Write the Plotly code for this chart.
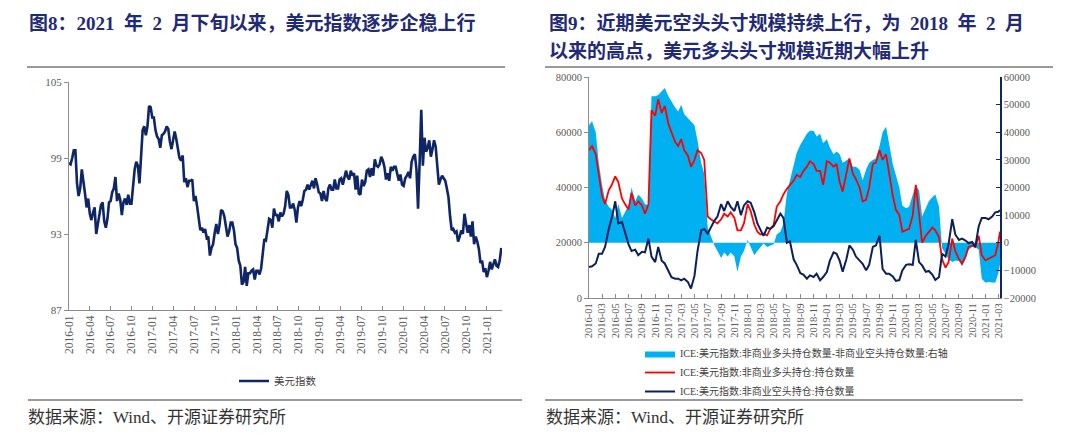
import pandas as pd
import plotly.graph_objects as go

# ---------------- data: left chart (US dollar index, weekly) ----------------
dxy = [
    # 2016
    98.6, 98.5, 99.0, 99.6, 99.6,
    97.0, 96.0, 96.6, 98.1,
    97.3, 96.2, 95.1, 95.8,
    94.6, 94.1, 94.7, 95.1, 93.0,
    93.9, 94.6, 95.3, 95.5,
    94.0, 93.5, 94.2, 95.5,
    95.6, 96.3, 96.6, 97.5, 95.6,
    96.2, 95.7, 94.5, 95.5,
    95.8, 95.3, 96.1, 95.4, 95.4,
    96.6, 98.1, 98.7, 98.4,
    97.0, 99.0, 101.2, 101.5,
    100.8, 101.5, 103.1, 103.0, 102.2,
    # 2017
    102.2, 101.2, 100.7, 100.5,
    99.8, 100.8, 100.9, 101.1,
    101.5, 101.3, 100.3, 99.7, 100.4,
    101.1, 100.5, 99.8, 99.0,
    98.8, 99.2, 97.1, 97.4,
    96.7, 97.2, 97.2, 97.3, 95.6,
    96.0, 95.2, 94.0, 93.3,
    93.5, 93.1, 93.4, 92.7,
    92.8, 91.3, 91.9, 92.2, 93.1,
    93.8, 93.0, 93.7, 94.9,
    94.8, 94.4, 93.6, 92.8,
    93.2, 93.9, 93.9, 93.3, 92.2,
    # 2018
    91.9, 90.9, 90.5, 89.0,
    89.2, 90.4, 88.9, 89.9,
    89.9, 90.1, 90.2, 89.4, 90.1,
    90.1, 89.8, 90.3, 91.5,
    92.6, 92.5, 93.6, 94.2,
    94.1, 93.5, 95.0, 94.5, 94.5,
    94.0, 94.7, 94.4, 94.6,
    95.2, 96.4, 96.1, 95.1, 95.1,
    95.4, 94.9, 93.9, 95.1,
    95.6, 95.2, 95.7, 96.4,
    96.5, 96.9, 96.5, 96.9, 97.2,
    96.6, 97.4, 96.9, 96.3,
    # 2019
    96.2, 95.6, 96.4, 95.8,
    95.6, 96.6, 96.9, 96.5,
    96.5, 97.3, 96.6, 96.6, 97.3,
    97.4, 96.9, 97.4, 98.0,
    97.5, 97.3, 98.0, 97.6, 97.8,
    96.5, 97.6, 96.2, 96.1,
    97.3, 96.8, 97.1, 98.0,
    98.1, 97.5, 98.2, 97.6, 98.9,
    98.4, 98.3, 98.5, 99.1,
    98.8, 98.3, 97.3, 97.8,
    97.2, 98.3, 98.0, 98.3, 98.3,
    97.7, 97.2, 97.7, 96.9,
    # 2020
    96.8, 97.4, 97.6, 97.9, 97.4,
    98.7, 99.1, 99.3, 98.1,
    95.0, 98.7, 102.8, 98.4,
    100.6, 99.5, 99.8, 100.4,
    99.1, 99.7, 100.4, 99.9, 98.3,
    96.9, 97.3, 97.6, 97.4,
    97.2, 96.6, 95.9, 94.4, 93.3,
    93.4, 93.1, 93.2, 92.4,
    92.8, 93.3, 93.0, 94.6,
    93.8, 93.1, 93.7, 92.8, 94.0,
    92.2, 92.8, 92.4, 91.8,
    90.7, 90.9, 90.0, 90.3,
    # 2021
    89.6, 90.1, 90.8, 90.2, 90.6,
    91.0, 90.5, 90.4, 90.9,
    91.9,
]
dxy_dates = pd.date_range("2016-01-01", periods=len(dxy), freq="7D")

# ---------------- data: right chart (ICE DXY non-commercial positions, semi-monthly) ----------------
long_pos = [
    # 2016
    53500, 55000, 52000, 45000, 37000, 34000, 39000, 41000, 44000, 42000, 36000, 34000,
    32000, 38000, 33500, 35000, 33500, 30500, 34000, 68000, 66000, 72000, 67000, 69500,
    # 2017
    63000, 60000, 56500, 55000, 57500, 53500, 51500, 47500, 50000, 53500, 52500, 50000,
    29500, 28500, 27500, 27000, 28500, 30500, 29500, 31000, 29000, 24500, 24500, 27000,
    # 2018
    34000, 31500, 26500, 24000, 23000, 23300, 22700, 25000, 26500, 33000, 35000, 37500,
    39500, 41000, 42500, 44500, 43800, 46000, 47500, 49500, 48500, 46000, 46000, 41000,
    # 2019
    49500, 49000, 47500, 48500, 42000, 38500, 45000, 50500, 45000, 43000, 40000, 35000,
    35500, 40000, 48500, 49000, 53500, 50000, 52000, 45000, 37000, 32000, 30000, 24000,
    # 2020
    24500, 25000, 30000, 41000, 30500, 20000, 22500, 24000, 25500, 24500, 22000, 14000,
    11000, 13000, 21500, 17000, 14000, 12500, 15000, 18500, 19000, 18500, 22500, 15500,
    # 2021
    13600, 14200, 14900, 15500, 20000, 24000,
]
short_pos = [
    # 2016
    11200, 11500, 12500, 16000, 16000, 18500, 25000, 29000, 35000, 27000, 27500, 24000,
    19500, 17000, 17500, 15500, 16700, 16500, 21500, 15000, 13000, 18500, 13500, 12500,
    # 2017
    9500, 7500, 7000, 7000, 6400, 7000, 5800, 3400, 8000, 17000, 24500, 25000,
    23300, 25700, 28000, 29500, 34000, 31500, 35000, 33000, 31500, 35000, 30000, 33500,
    # 2018
    35000, 34500, 31000, 27000, 24500, 22500, 25500, 25000, 26000, 28000, 30500, 29000,
    20000, 20500, 14000, 12000, 9000, 8500, 7000, 8200, 7600, 8800, 6400, 7600,
    # 2019
    9400, 13500, 16500, 16000, 13500, 9500, 14000, 19000, 17500, 15000, 13600, 12400,
    10000, 12000, 18500, 19000, 22500, 10500, 8800, 8800, 7800, 6200, 6500, 10000,
    # 2020
    12000, 12200, 12000, 21000, 13000, 11800, 9500, 9800, 8500, 6500, 7600, 16000,
    15000, 19500, 28500, 23000, 21000, 21500, 20800, 19900, 20300, 18500, 26000, 29000,
    # 2021
    29000, 28500, 29500, 31000, 31200, 31800,
]
net_pos = [
    # 2016
    42500, 44000, 40000, 29000, 21000, 15500, 13000, 12000, 9000, 14000, 9000, 11000,
    13500, 20000, 15000, 17500, 16000, 14000, 13500, 53000, 53000, 53500, 55000, 56000,
    # 2017
    53000, 51000, 49000, 47500, 50000, 46500, 45000, 44000, 42500, 37000, 29000, 25000,
    5500, 2500, -1000, -3000, -5500, -3500, -5000, -3500, -5000, -10500, -5000, -3000,
    # 2018
    1000, -1500, -4500, -3000, -1500, -300, -1500, -1000, -500, 3000, 4000, 7000,
    18000, 22500, 28500, 32500, 35500, 37500, 39500, 40500, 40500, 38500, 39500, 36000,
    # 2019
    37500, 34500, 32000, 33000, 32000, 29000, 30000, 30500, 27500, 27500, 26400, 22600,
    26500, 29000, 30000, 30500, 35000, 40000, 42000, 35500, 28500, 24500, 20000, 13500,
    # 2020
    12500, 13000, 17000, 21000, 19000, 9500, 12500, 15000, 16500, 17500, 13000, -2000,
    -4000, -6000, -7000, -6500, -6500, -8500, -6000, -2500, -1500, -1500, -2500, -13000,
    # 2021
    -14500, -14200, -14400, -14500, -11200, -7800,
]
cot_dates = list(pd.date_range("2016-01-01", "2021-03-01", freq="SMS")) + [pd.Timestamp("2021-03-09")]

# ---------------- texts ----------------
SP = "\u2002"
title_left = f"图8：2021{SP}年{SP}2{SP}月下旬以来，美元指数逐步企稳上行"
title_right_1 = f"图9：近期美元空头头寸规模持续上行，为{SP}2018{SP}年{SP}2{SP}月"
title_right_2 = "以来的高点，美元多头头寸规模近期大幅上升"
source_text = "数据来源：Wind、开源证券研究所"
name_dxy = "美元指数"
name_net = "ICE:美元指数:非商业多头持仓数量-非商业空头持仓数量:右轴"
name_long = "ICE:美元指数:非商业多头持仓:持仓数量"
name_short = "ICE:美元指数:非商业空头持仓:持仓数量"

W, H = 1080, 442
OFF = 8  # page offset of the plot div (body margin)
FONT = "Liberation Serif, Noto Sans CJK SC, serif"
TICK_COLOR = "#595959"
AXIS_GRAY = "#8C8C8C"
NAVY = "#0E2566"
TITLE_BLUE = "#1F2A78"


def px(x):
    return (x - OFF) / W


def py(y):
    return 1 - (y - OFF) / H


fig = go.Figure()

fig.add_trace(go.Scatter(
    x=dxy_dates, y=dxy, mode="lines", name=name_dxy,
    line=dict(color=NAVY, width=2.6), xaxis="x", yaxis="y", legend="legend",
))
fig.add_trace(go.Scatter(
    x=cot_dates, y=net_pos, mode="lines", name=name_net, fill="tozeroy",
    fillcolor="#00B0F0", line=dict(color="#00B0F0", width=0),
    xaxis="x2", yaxis="y2", legend="legend2",
))
fig.add_trace(go.Scatter(
    x=cot_dates, y=long_pos, mode="lines", name=name_long,
    line=dict(color="#FF0000", width=1.8), xaxis="x2", yaxis="y3", legend="legend2",
))
fig.add_trace(go.Scatter(
    x=cot_dates, y=short_pos, mode="lines", name=name_short,
    line=dict(color="#0B1F5C", width=2.0), xaxis="x2", yaxis="y3", legend="legend2",
))

tickfont = dict(family=FONT, size=11, color=TICK_COLOR)

fig.update_layout(
    width=W, height=H,
    margin=dict(l=0, r=0, t=0, b=0, pad=0, autoexpand=False),
    paper_bgcolor="white", plot_bgcolor="white",
    font=dict(family=FONT, color="#404040"),
    xaxis=dict(
        domain=[px(69), px(502)], anchor="y", type="date", automargin=False,
        range=["2016-01-01", "2021-03-08"], dtick="M3", tick0="2016-01-01",
        tickformat="%Y-%m", tickangle=-90, ticks="inside", ticklen=4,
        tickcolor=AXIS_GRAY, showline=True, linecolor=AXIS_GRAY, linewidth=1,
        showgrid=False, zeroline=False, tickfont=dict(family=FONT, size=11.5, color=TICK_COLOR),
    ),
    yaxis=dict(
        domain=[py(310), py(82)], anchor="x", range=[87, 105], automargin=False,
        tickvals=[87, 93, 99, 105], ticks="outside", ticklen=4, tickcolor=AXIS_GRAY,
        showline=True, linecolor=AXIS_GRAY, linewidth=1, showgrid=False, zeroline=False,
        tickfont=tickfont,
    ),
    xaxis2=dict(
        domain=[px(589), px(1000)], anchor="y2", type="date", automargin=False,
        range=["2016-01-01", "2021-03-09"], dtick="M2", tick0="2016-01-01",
        tickformat="%Y-%m", tickangle=-90, ticks="inside", ticklen=4,
        tickcolor=AXIS_GRAY, showline=True, linecolor=AXIS_GRAY, linewidth=1,
        showgrid=False, zeroline=False, tickfont=dict(family=FONT, size=10.5, color=TICK_COLOR),
    ),
    yaxis2=dict(
        domain=[py(298), py(77)], anchor="x2", side="right", range=[-20000, 60000],
        dtick=10000, tickformat="d", ticks="inside", ticklen=4, tickcolor=NAVY, automargin=False,
        showline=True, linecolor=NAVY, linewidth=1.5, showgrid=False, zeroline=False,
        tickfont=dict(family=FONT, size=10.5, color=TICK_COLOR),
    ),
    yaxis3=dict(
        overlaying="y2", anchor="x2", side="left", range=[0, 80000], automargin=False,
        dtick=20000, tickformat="d", ticks="outside", ticklen=4, tickcolor=AXIS_GRAY,
        showline=True, linecolor=AXIS_GRAY, linewidth=1, showgrid=False, zeroline=False,
        tickfont=dict(family=FONT, size=10.5, color=TICK_COLOR),
    ),
    legend=dict(
        x=px(234), y=py(381), xanchor="left", yanchor="middle", orientation="h",
        bgcolor="rgba(0,0,0,0)", font=dict(family=FONT, size=10.5, color="#404040"),
    ),
    legend2=dict(
        x=px(640), y=py(339), xanchor="left", yanchor="top", orientation="v",
        bgcolor="rgba(0,0,0,0)", tracegroupgap=0,
        font=dict(family=FONT, size=10, color="#404040"),
    ),
    showlegend=True,
)

# title rules and source separators
for x0, x1, y in [(27, 505, 67), (545, 1053, 67), (28, 522, 400), (545, 1023, 400)]:
    fig.add_shape(type="line", xref="paper", yref="paper",
                  x0=px(x0), x1=px(x1), y0=py(y), y1=py(y),
                  line=dict(color="#9A9A9A", width=2))

title_font = dict(family=FONT, size=19, color=TITLE_BLUE)
for text, x, y in [(title_left, 27, 23), (title_right_1, 547, 23), (title_right_2, 547, 51)]:
    fig.add_annotation(text=f"<b>{text}</b>", xref="paper", yref="paper",
                       x=px(x), y=py(y), xanchor="left", yanchor="middle",
                       showarrow=False, font=title_font)

for x in (26, 544):
    fig.add_annotation(text=source_text, xref="paper", yref="paper",
                       x=px(x), y=py(417), xanchor="left", yanchor="middle",
                       showarrow=False, font=dict(family=FONT, size=17, color="#333333"))

fig.write_html("out.html")
